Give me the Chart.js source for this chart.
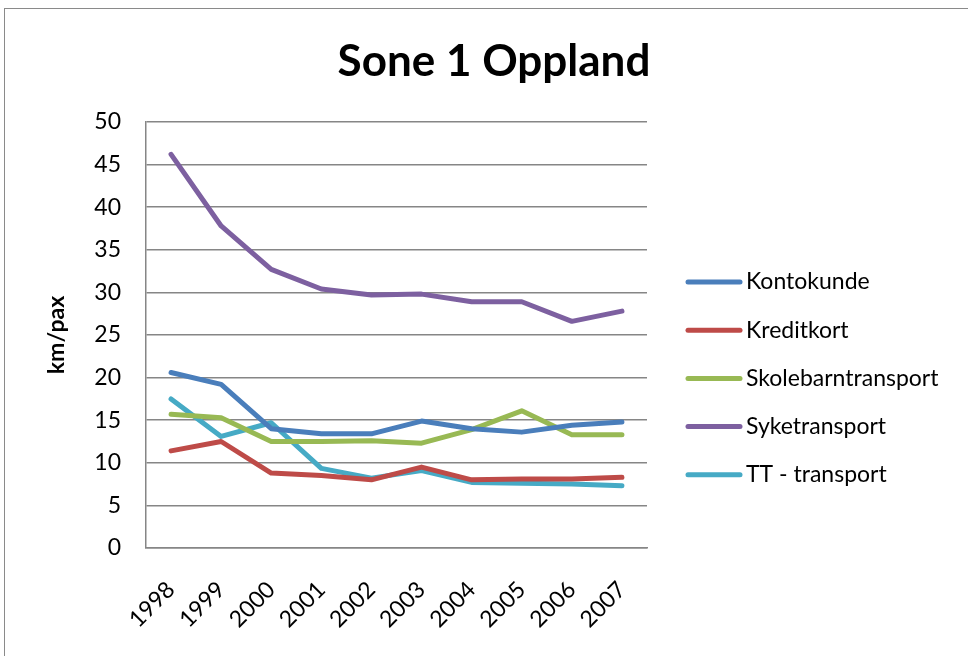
<!DOCTYPE html>
<html>
<head>
<meta charset="utf-8">
<script src="https://cdn.jsdelivr.net/npm/chart.js@4/dist/chart.umd.min.js"></script>
<style>
  html, body { margin: 0; padding: 0; background: #fff; overflow: hidden; }
  #frame { position: absolute; left: 4px; top: 8px; width: 1000px; height: 700px; border: 1.5px solid #8a8a8a; }
  #chart { position: absolute; left: 0; top: 0; }
</style>
</head>
<body>
<div id="frame"></div>
<canvas id="chart" width="968" height="656"></canvas>
<script>
// Data
const YEARS = ['1998', '1999', '2000', '2001', '2002', '2003', '2004', '2005', '2006', '2007'];
const KONTOKUNDE = [20.6, 19.2, 14.0, 13.4, 13.4, 14.9, 14.0, 13.6, 14.4, 14.8];
const KREDITKORT = [11.4, 12.5, 8.8, 8.5, 8.0, 9.5, 8.0, 8.1, 8.1, 8.3];
const SKOLEBARN = [15.7, 15.3, 12.5, 12.5, 12.6, 12.3, 13.9, 16.1, 13.3, 13.3];
const SYKETRANSPORT = [46.2, 37.8, 32.7, 30.4, 29.7, 29.8, 28.9, 28.9, 26.6, 27.8];
const TT_TRANSPORT = [17.5, 13.1, 14.7, 9.35, 8.2, 9.1, 7.7, 7.6, 7.5, 7.3];
const Y_MIN = 0, Y_MAX = 50, Y_STEP = 5;

const TITLE = 'Sone 1 Oppland';
const Y_TITLE = 'km/pax';

const COLORS = {
  blue: '#4A7EBB',
  red: '#BE4B48',
  green: '#98B954',
  purple: '#7D60A0',
  aqua: '#46AAC5',
  grid: '#868686',
  text: '#000000'
};

Chart.defaults.font.family = 'Lato, "Open Sans", sans-serif';
Chart.defaults.font.size = 23;
Chart.defaults.color = COLORS.text;

function series(label, data, color) {
  return {
    label: label,
    data: data,
    borderColor: color,
    backgroundColor: color,
    borderWidth: 5,
    borderCapStyle: 'round',
    borderJoinStyle: 'round',
    pointRadius: 0,
    tension: 0,
    fill: false
  };
}

// titel + legende tegnes selv, slik som i Excel-figuren
const excelDecor = {
  id: 'excelDecor',
  afterDraw(chart) {
    const ctx = chart.ctx;
    ctx.save();
    ctx.fillStyle = COLORS.text;
    ctx.font = 'bold 44px Lato, "Open Sans", sans-serif';
    ctx.textAlign = 'center';
    ctx.textBaseline = 'alphabetic';
    ctx.fillText(TITLE, 494, 76);

    const x0 = chart.chartArea.right + 39;
    ctx.font = '23px Lato, "Open Sans", sans-serif';
    ctx.textAlign = 'left';
    ctx.textBaseline = 'middle';
    chart.data.datasets.forEach((ds, i) => {
      const y = 282 + i * 48.2;
      ctx.strokeStyle = ds.borderColor;
      ctx.lineWidth = 5;
      ctx.lineCap = 'round';
      ctx.beginPath();
      ctx.moveTo(x0 + 2, y);
      ctx.lineTo(x0 + 54, y);
      ctx.stroke();
      ctx.fillText(ds.label, x0 + 60, y);
    });
    ctx.restore();
  }
};

new Chart(document.getElementById('chart'), {
  type: 'line',
  data: {
    labels: YEARS,
    datasets: [
      series('Kontokunde', KONTOKUNDE, COLORS.blue),
      series('Kreditkort', KREDITKORT, COLORS.red),
      series('Skolebarntransport', SKOLEBARN, COLORS.green),
      series('Syketransport', SYKETRANSPORT, COLORS.purple),
      series('TT - transport', TT_TRANSPORT, COLORS.aqua)
    ]
  },
  options: {
    responsive: false,
    animation: false,
    devicePixelRatio: 1,
    layout: { padding: { left: 30, top: 122, right: 321, bottom: 0 } },
    plugins: {
      legend: { display: false },
      title: { display: false },
      tooltip: { enabled: false }
    },
    scales: {
      x: {
        offset: true,
        grid: { display: false, drawTicks: false },
        border: { display: true, color: COLORS.grid, width: 1.5 },
        ticks: { minRotation: 45, maxRotation: 45, autoSkip: false, padding: 28 },
        afterFit: (scale) => { scale.height = 108; }
      },
      y: {
        min: Y_MIN,
        max: Y_MAX,
        grid: { color: COLORS.grid, lineWidth: 1.5, drawTicks: false },
        border: { display: true, color: COLORS.grid, width: 1.5 },
        ticks: { stepSize: Y_STEP, padding: 25 },
        title: {
          display: true,
          text: Y_TITLE,
          font: { size: 23, weight: 'bold' },
          padding: { top: 13, bottom: 0 }
        },
        afterFit: (scale) => { scale.width = 116; }
      }
    }
  },
  plugins: [excelDecor]
});
</script>
</body>
</html>
